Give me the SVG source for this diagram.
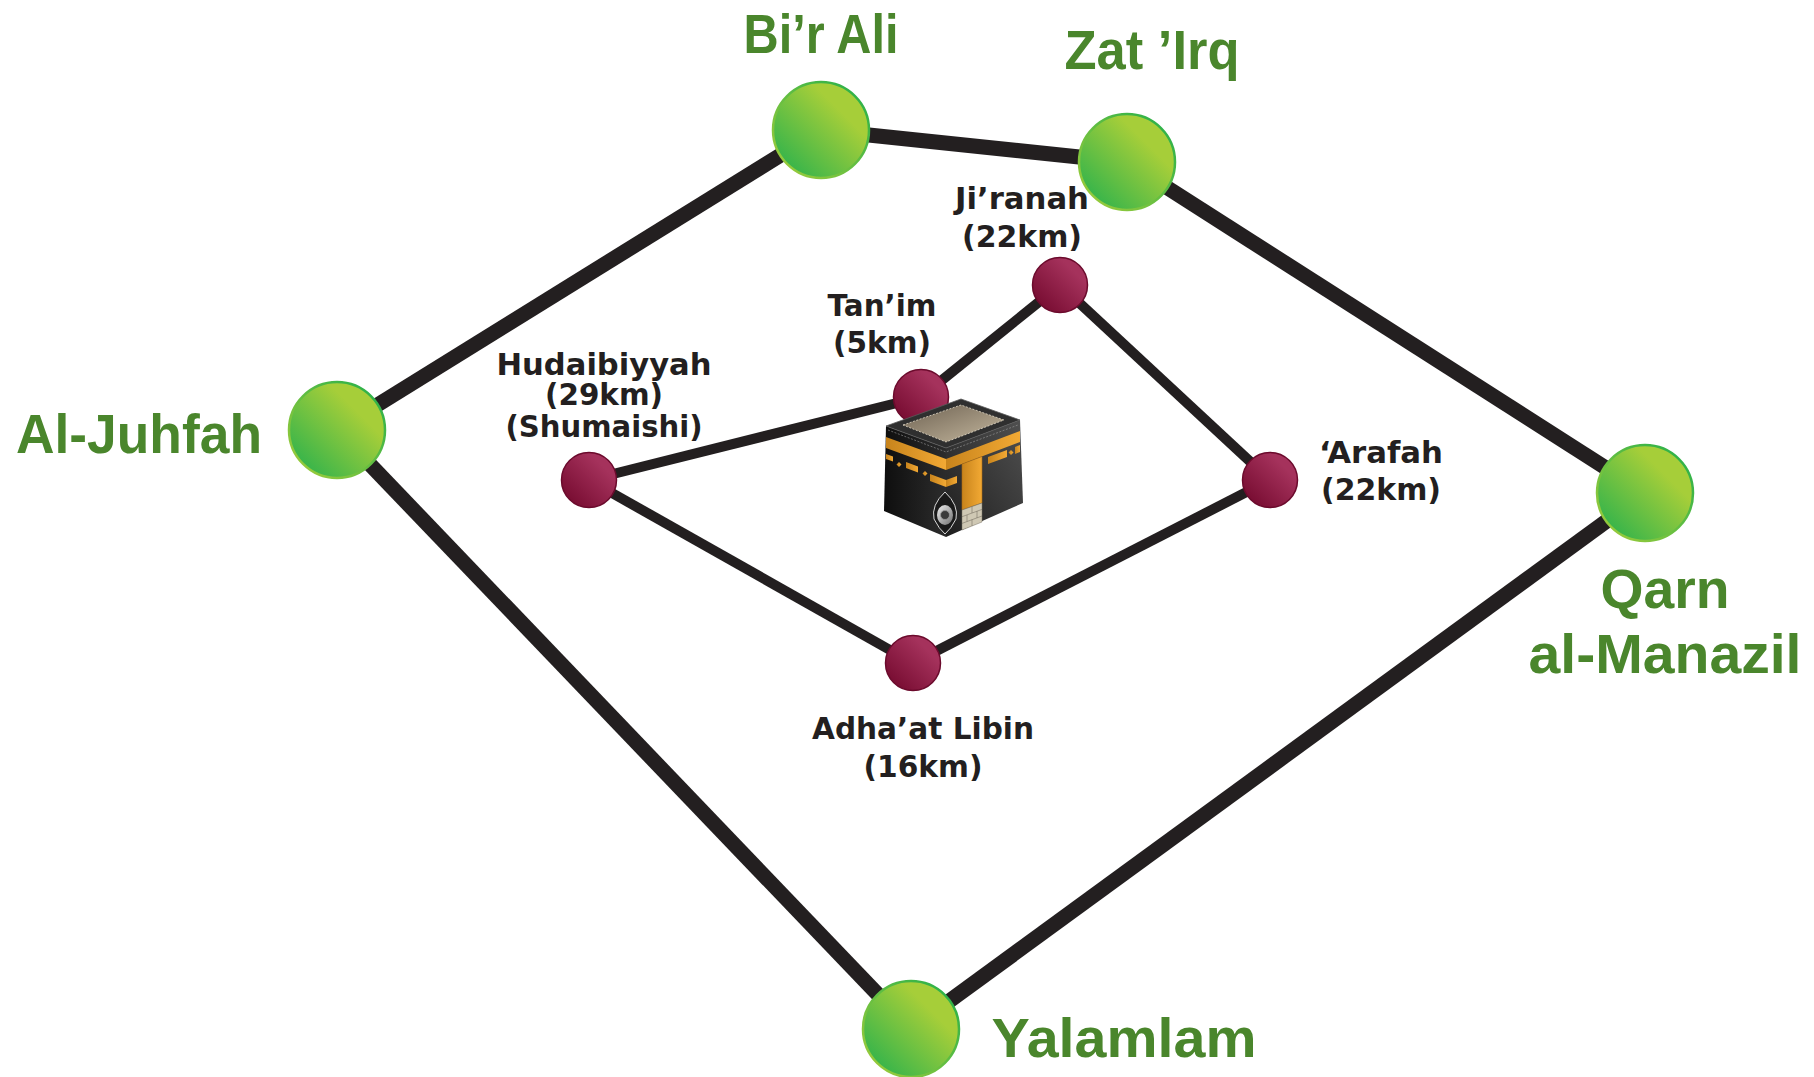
<svg xmlns="http://www.w3.org/2000/svg" width="1814" height="1077" viewBox="0 0 1814 1077">
<style>
.outer{stroke:#231f20;stroke-width:15;fill:none}
.inner{stroke:#231f20;stroke-width:10;fill:none}
.gn{fill:url(#gFill);stroke:url(#gStroke);stroke-width:2.5}
.mr{fill:url(#mFill);stroke:#6b0a2c;stroke-width:1.5}
.gt{font-family:"Liberation Sans",Arial,sans-serif;font-weight:bold;font-size:55px;fill:#4a862c}
.bt{font-family:"DejaVu Sans","Liberation Sans",sans-serif;font-weight:bold;font-size:30px;fill:#231f20}
.gold{fill:url(#goldG)}
</style>
<defs>
<linearGradient id="gFill" x1="0" y1="1" x2="1" y2="0">
<stop offset="0.15" stop-color="#3ab54a"/>
<stop offset="0.7" stop-color="#a6ce39"/>
</linearGradient>
<linearGradient id="gStroke" x1="0" y1="1" x2="1" y2="0">
<stop offset="0" stop-color="#a6ce39"/>
<stop offset="1" stop-color="#1fae4b"/>
</linearGradient>
<linearGradient id="mFill" x1="0" y1="1" x2="1" y2="0">
<stop offset="0.1" stop-color="#760b30"/>
<stop offset="0.75" stop-color="#a5325c"/>
</linearGradient>
<linearGradient id="leftF" x1="0" y1="0" x2="1" y2="0">
<stop offset="0" stop-color="#0e0e0e"/>
<stop offset="1" stop-color="#2c2c2c"/>
</linearGradient>
<linearGradient id="rightF" x1="0" y1="1" x2="1" y2="0">
<stop offset="0" stop-color="#1e1e1e"/>
<stop offset="1" stop-color="#505050"/>
</linearGradient>
<linearGradient id="topP" x1="0" y1="0" x2="1" y2="1">
<stop offset="0" stop-color="#6e6252"/>
<stop offset="1" stop-color="#c4b79e"/>
</linearGradient>
<linearGradient id="goldG" x1="0" y1="0" x2="1" y2="0">
<stop offset="0" stop-color="#c8841c"/>
<stop offset="1" stop-color="#f2a934"/>
</linearGradient>
<linearGradient id="stoneG" x1="0" y1="0" x2="1" y2="1">
<stop offset="0" stop-color="#f0f0f0"/>
<stop offset="1" stop-color="#707070"/>
</linearGradient>
</defs>

<g id="connectors">
<line class="outer" x1="337" y1="430" x2="821" y2="130"/>
<line class="outer" x1="821" y1="130" x2="1127" y2="162"/>
<line class="outer" x1="1127" y1="162" x2="1645" y2="493"/>
<line class="outer" x1="1645" y1="493" x2="911" y2="1029"/>
<line class="outer" x1="911" y1="1029" x2="337" y2="430"/>
<line class="inner" x1="589" y1="480" x2="921" y2="397"/>
<line class="inner" x1="921" y1="397" x2="1060" y2="285"/>
<line class="inner" x1="1060" y1="285" x2="1270" y2="480"/>
<line class="inner" x1="1270" y1="480" x2="913" y2="663"/>
<line class="inner" x1="913" y1="663" x2="589" y2="480"/>
</g>

<g id="bir-ali">
<circle class="gn" cx="821" cy="130" r="48"/>
<text class="gt" x="821" y="53" text-anchor="middle" textLength="155" lengthAdjust="spacingAndGlyphs">Bi’r Ali</text>
</g>
<g id="zat-irq">
<circle class="gn" cx="1127" cy="162" r="48"/>
<text class="gt" x="1152" y="69" text-anchor="middle" textLength="175" lengthAdjust="spacingAndGlyphs">Zat ’Irq</text>
</g>
<g id="al-juhfah">
<circle class="gn" cx="337" cy="430" r="48"/>
<text class="gt" x="139" y="453" text-anchor="middle" textLength="246" lengthAdjust="spacingAndGlyphs">Al-Juhfah</text>
</g>
<g id="qarn-al-manazil">
<circle class="gn" cx="1645" cy="493" r="48"/>
<text class="gt" x="1665" y="608" text-anchor="middle" textLength="129" lengthAdjust="spacingAndGlyphs">Qarn</text>
<text class="gt" x="1665" y="673" text-anchor="middle" textLength="273" lengthAdjust="spacingAndGlyphs">al-Manazil</text>
</g>
<g id="yalamlam">
<circle class="gn" cx="911" cy="1029" r="48"/>
<text class="gt" x="1124" y="1057" text-anchor="middle" textLength="265" lengthAdjust="spacingAndGlyphs">Yalamlam</text>
</g>

<g id="hudaibiyyah">
<circle class="mr" cx="589" cy="480" r="27.5"/>
<text class="bt" x="604" y="375" text-anchor="middle" textLength="215" lengthAdjust="spacingAndGlyphs">Hudaibiyyah</text>
<text class="bt" x="604" y="405" text-anchor="middle" textLength="118" lengthAdjust="spacingAndGlyphs">(29km)</text>
<text class="bt" x="604" y="437" text-anchor="middle" textLength="197" lengthAdjust="spacingAndGlyphs">(Shumaishi)</text>
</g>
<g id="tanim">
<circle class="mr" cx="921" cy="397" r="27.5"/>
<text class="bt" x="882" y="316" text-anchor="middle" textLength="109" lengthAdjust="spacingAndGlyphs">Tan’im</text>
<text class="bt" x="882" y="353" text-anchor="middle" textLength="98" lengthAdjust="spacingAndGlyphs">(5km)</text>
</g>
<g id="jiranah">
<circle class="mr" cx="1060" cy="285" r="27.5"/>
<text class="bt" x="1022" y="209" text-anchor="middle" textLength="134" lengthAdjust="spacingAndGlyphs">Ji’ranah</text>
<text class="bt" x="1022" y="247" text-anchor="middle" textLength="120" lengthAdjust="spacingAndGlyphs">(22km)</text>
</g>
<g id="arafah">
<circle class="mr" cx="1270" cy="480" r="27.5"/>
<text class="bt" x="1319" y="463" textLength="124" lengthAdjust="spacingAndGlyphs">‘Arafah</text>
<text class="bt" x="1321" y="500" textLength="120" lengthAdjust="spacingAndGlyphs">(22km)</text>
</g>
<g id="adhaat-libin">
<circle class="mr" cx="913" cy="663" r="27.5"/>
<text class="bt" x="923" y="739" text-anchor="middle" textLength="222" lengthAdjust="spacingAndGlyphs">Adha’at Libin</text>
<text class="bt" x="923" y="777" text-anchor="middle" textLength="119" lengthAdjust="spacingAndGlyphs">(16km)</text>
</g>

<g id="kaaba">
<polygon points="886,426 946,448 946,537 884,511" fill="url(#leftF)"/>
<polygon points="946,448 1020,420 1023,503 946,537" fill="url(#rightF)"/>
<polygon points="886,426 961,399 1020,420 946,448" fill="#2f2f2f" stroke="#5a5a5a" stroke-width="0.8"/>
<polygon points="903,425 961,405 1004,420 946,442" fill="url(#topP)" stroke="#efe6d4" stroke-width="0.7" stroke-dasharray="2 1.5"/>
<polyline points="888,430 946,452 1018,425" fill="none" stroke="#9a9a9a" stroke-width="0.6" stroke-dasharray="2 1.5"/>
<polygon class="gold" points="886,437 946,459 946,470 886,448"/>
<polygon class="gold" points="946,459 1020,431 1020,442 946,470"/>
<polygon class="gold" points="886,454 893,456.6 893,461.6 886,459"/>
<polygon class="gold" points="899,462 901.5,464.5 899,467 896.5,464.5"/>
<polygon class="gold" points="906,462 918,466.4 918,472.4 906,468"/>
<polygon class="gold" points="925,471 927.5,473.5 925,476 922.5,473.5"/>
<polygon class="gold" points="930,474 946,480 946,487 930,481"/>
<polygon class="gold" points="946,480 957,476 957,483 946,487"/>
<polygon class="gold" points="988,457 1007,450 1007,457 988,464"/>
<polygon class="gold" points="1011,450 1013.5,452.5 1011,455 1008.5,452.5"/>
<polygon class="gold" points="1015,447 1020,445 1020,452 1015,454"/>
<polygon points="962,464 982,456.5 982,503 962,510" fill="url(#goldG)" stroke="#a86a14" stroke-width="0.6"/>
<polygon points="962,510 982,503 982,522 962,530" fill="#cfc8b4" stroke="#7a7466" stroke-width="0.5"/>
<path d="M962,516.7 L982,509.4 M962,523.4 L982,516 M972,506.5 L972,513 M967,515 L967,521.5 M977,511 L977,518 M972,519.5 L972,526" stroke="#7a7466" stroke-width="0.6" fill="none"/>
<path d="M945,492 Q959,505 956,519 Q951,529 945,534 Q939,529 934,519 Q931,505 945,492 Z" fill="#1a1a1a" stroke="#d8d8d8" stroke-width="1"/>
<ellipse cx="945" cy="515" rx="8" ry="10" fill="url(#stoneG)"/>
<circle cx="945" cy="515" r="4.5" fill="#3a3a3a" stroke="#999" stroke-width="0.8"/>
</g>
</svg>
